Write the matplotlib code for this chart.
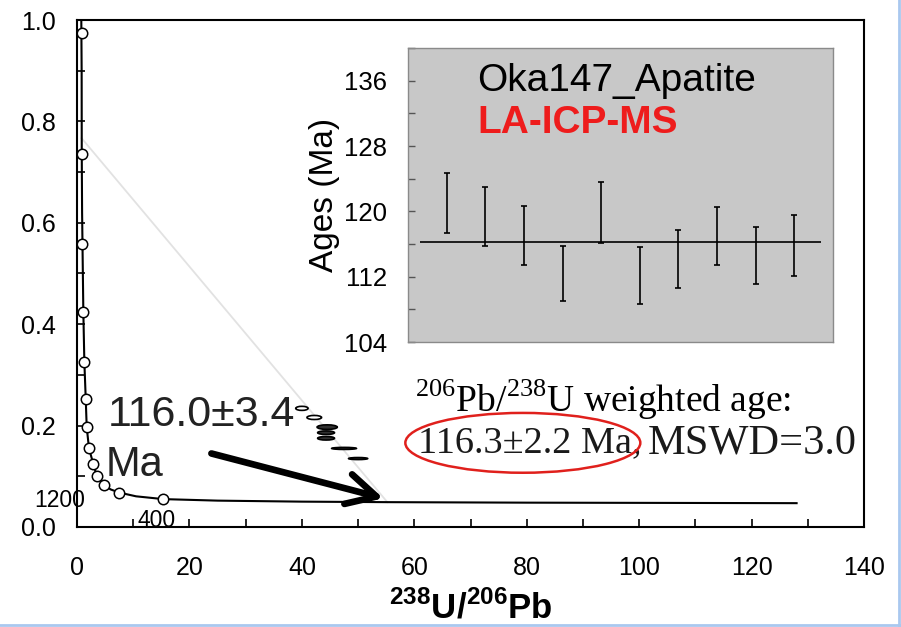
import matplotlib
matplotlib.use("Agg")
import matplotlib.pyplot as plt
from matplotlib.patches import Ellipse
from matplotlib.lines import Line2D
from matplotlib.ticker import MultipleLocator

plt.rcParams["font.family"] = ["Liberation Sans", "DejaVu Sans"]
plt.rcParams["mathtext.fontset"] = "custom"
plt.rcParams["mathtext.rm"] = "Liberation Serif"
plt.rcParams["mathtext.bf"] = "Liberation Sans:bold"

# Tera-Wasserburg concordia (238U/206Pb vs 207Pb/206Pb)
curve_x = [0.76, 0.82, 0.84, 0.90, 0.97, 1.12, 1.30, 1.55, 1.72, 2.13, 2.90,
           3.50, 4.85, 6.0, 7.47, 10.5, 15.34, 25.0, 40.0, 55.0, 80.0, 105.0, 128.0]
curve_y = [1.00, 0.90, 0.736, 0.62, 0.558, 0.425, 0.326, 0.252, 0.197, 0.155, 0.124,
           0.101, 0.082, 0.074, 0.068, 0.0605, 0.055, 0.052, 0.050, 0.049, 0.048, 0.0475, 0.047]
# age marks (circles) on the concordia
mark_x = [0.84, 0.84, 0.94, 1.12, 1.30, 1.55, 1.72, 2.13, 2.90, 3.50, 4.85, 7.47, 15.34]
mark_y = [0.974, 0.736, 0.558, 0.425, 0.326, 0.252, 0.197, 0.155, 0.124, 0.101, 0.082, 0.068, 0.055]

# common-Pb anchored regression line
discordia_x = [0.8, 55.2]
discordia_y = [0.767, 0.049]

# analyses (error ellipses)
ell_x = [40.0, 42.2, 44.5, 44.3, 44.3, 47.5, 50.0]
ell_y = [0.234, 0.216, 0.197, 0.186, 0.175, 0.155, 0.135]
ell_w = [2.2, 2.6, 3.6, 3.0, 3.0, 4.4, 3.4]
ell_h = [0.008, 0.008, 0.009, 0.007, 0.007, 0.004, 0.004]

# inset: single-spot 206Pb/238U ages (error bar ends, Ma)
spot = [1, 2, 3, 4, 5, 6, 7, 8, 9, 10]
age_lo = [117.3, 115.7, 113.4, 109.0, 116.1, 108.7, 110.6, 113.4, 111.1, 112.1]
age_hi = [124.7, 123.0, 120.7, 115.8, 123.6, 115.6, 117.7, 120.5, 118.1, 119.5]
wm_age = 116.3

fig = plt.figure(figsize=(9.01, 6.27), dpi=100)
ax = fig.add_axes([0.0855, 0.1595, 0.8735, 0.8086])

ax.plot(discordia_x, discordia_y, color="#e2e2e2", lw=1.3, zorder=1)
ax.plot(curve_x, curve_y, color="black", lw=1.5, zorder=2)
ax.plot(mark_x, mark_y, "o", ms=7.5, mfc="white", mec="black", mew=1.1, zorder=3)

for i, (x, y, w, h) in enumerate(zip(ell_x, ell_y, ell_w, ell_h)):
    fc = "white" if i < 2 else "#303030"
    ax.add_patch(Ellipse((x, y), w, h, facecolor=fc, edgecolor="black", lw=1.2, zorder=3))

ax.annotate("", xy=(54.5, 0.0566), xytext=(23.9, 0.145),
            arrowprops=dict(arrowstyle="->,head_length=2.1,head_width=1.1",
                            mutation_scale=10, lw=4.8, color="black",
                            shrinkA=0, shrinkB=0), zorder=4)

ax.text(5.4, 0.221, "116.0\u00b13.4", fontsize=31, color="#222222", ha="left", va="center")
ax.text(5.0, 0.122, "Ma", fontsize=30, color="#222222", ha="left", va="center")
ax.text(-7.6, 0.053, "1200", fontsize=16.5, ha="left", va="center")
ax.text(10.8, 0.012, "400", fontsize=16.5, ha="left", va="center")

ax.text(60.1, 0.250, r"$^{206}$Pb/$^{238}$U weighted age:", fontsize=27,
        family="Liberation Serif", ha="left", va="center")
ax.text(60.6, 0.166, "116.3\u00b12.2 Ma,", fontsize=27.5,
        family="Liberation Serif", color="#1a1a1a", ha="left", va="center")
ax.text(101.6, 0.166, "MSWD=3.0", fontsize=30.5,
        family="Liberation Serif", color="#1a1a1a", ha="left", va="center")
ax.add_patch(Ellipse((79.3, 0.166), 41.8, 0.118, facecolor="none",
                     edgecolor="#e0201c", lw=1.8, zorder=5))

ax.set_xlim(0, 140)
ax.set_ylim(0, 1.0)
ax.xaxis.set_major_locator(MultipleLocator(20))
ax.xaxis.set_minor_locator(MultipleLocator(10))
ax.yaxis.set_major_locator(MultipleLocator(0.2))
ax.yaxis.set_minor_locator(MultipleLocator(0.1))
ax.yaxis.set_major_formatter(lambda v, p: f"{v:.1f}")
ax.tick_params(which="both", direction="in", width=1.2, length=6)
ax.tick_params(axis="x", which="major", labelsize=18, pad=21)
ax.tick_params(axis="y", which="major", labelsize=18, pad=15)
for s in ax.spines.values():
    s.set_linewidth(1.5)
ax.set_xlabel(r"$^{\mathbf{238}}$U/$^{\mathbf{206}}$Pb", fontsize=25,
              fontweight="bold", labelpad=7)

# inset with spot ages
ins = fig.add_axes([0.4528, 0.4545, 0.4717, 0.4689])
ins.set_facecolor("#c8c8c8")
mid = [(lo + hi) / 2 for lo, hi in zip(age_lo, age_hi)]
half = [(hi - lo) / 2 for lo, hi in zip(age_lo, age_hi)]
ins.errorbar(spot, mid, yerr=half, fmt="none", ecolor="black", elinewidth=1.2,
             capsize=2, capthick=1.2)
ins.hlines(wm_age, 0.3, 10.7, color="black", lw=1.2)
ins.set_xlim(0, 11)
ins.set_ylim(104, 140)
ins.set_xticks([])
ins.yaxis.set_major_locator(MultipleLocator(8))
ins.yaxis.set_minor_locator(MultipleLocator(4))
ins.tick_params(axis="y", which="both", direction="in", length=5, width=1,
                color="#555555", labelsize=18.5, pad=15)
for s in ins.spines.values():
    s.set_color("#8a8a8a")
    s.set_linewidth(1.0)
ins.set_ylabel("Ages (Ma)", fontsize=24, labelpad=3)
ins.text(1.8, 136.0, "Oka147_Apatite", fontsize=28, ha="left", va="center")
ins.text(1.8, 130.8, "LA-ICP-MS", fontsize=28, fontweight="bold", color="#ee1c1c",
         ha="left", va="center")

# light blue frame lines at the right and bottom edges
fig.add_artist(Line2D([0.9978, 0.9978], [0.0, 1.0], transform=fig.transFigure,
                      color="#a9c8ef", lw=2))
fig.add_artist(Line2D([0.0, 1.0], [0.0032, 0.0032], transform=fig.transFigure,
                      color="#a9c8ef", lw=2))

fig.savefig("out.png", dpi=100)
